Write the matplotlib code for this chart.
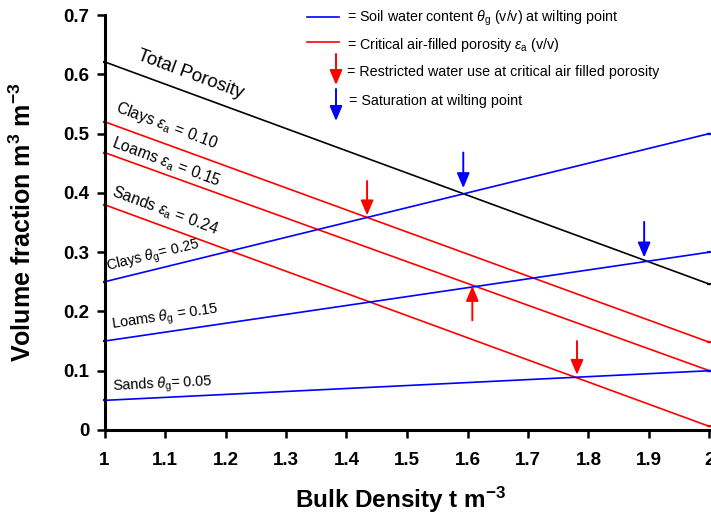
import matplotlib
matplotlib.use("Agg")
import matplotlib.pyplot as plt
from matplotlib.patches import FancyArrowPatch
from matplotlib.lines import Line2D

plt.rcParams['font.family'] = ['Liberation Sans', 'DejaVu Sans']
plt.rcParams['mathtext.fontset'] = 'custom'
plt.rcParams['mathtext.rm'] = 'Liberation Sans'
plt.rcParams['mathtext.it'] = 'Liberation Sans:italic'
plt.rcParams['mathtext.bf'] = 'Liberation Sans:bold'

# ---- data ----
bulk_density = [1.0, 2.0]
total_porosity = [0.621, 0.246]
clays_crit_air = [0.520, 0.148]
loams_crit_air = [0.468, 0.100]
sands_crit_air = [0.380, 0.006]
clays_water = [0.25, 0.50]
loams_water = [0.15, 0.30]
sands_water = [0.05, 0.10]

# arrows: (x, y_tail, y_tip)
red_arrows = [(1.434, 0.420, 0.362), (1.608, 0.185, 0.243), (1.781, 0.150, 0.093)]
blue_arrows = [(1.593, 0.468, 0.408), (1.892, 0.351, 0.291)]

xticks = [1, 1.1, 1.2, 1.3, 1.4, 1.5, 1.6, 1.7, 1.8, 1.9, 2]
xticklabels = ['1', '1.1', '1.2', '1.3', '1.4', '1.5', '1.6', '1.7', '1.8', '1.9', '2']
yticks = [0, 0.1, 0.2, 0.3, 0.4, 0.5, 0.6, 0.7]
yticklabels = ['0', '0.1', '0.2', '0.3', '0.4', '0.5', '0.6', '0.7']

W, H = 711, 512
fig = plt.figure(figsize=(W / 100, H / 100), dpi=100)
ax = fig.add_axes([104.5 / W, 1 - 430 / H, 605 / W, 415 / H])

lw = 1.2
line_kw = dict(lw=lw, clip_on=False, marker='_', markersize=3.5, markeredgewidth=1.6)
ax.plot(bulk_density, total_porosity, color='black', **line_kw)
for ys in (clays_crit_air, loams_crit_air, sands_crit_air):
    ax.plot(bulk_density, ys, color='#ff0000', **line_kw)
for ys in (clays_water, loams_water, sands_water):
    ax.plot(bulk_density, ys, color='#0000ff', **line_kw)

arrow_kw = dict(arrowstyle='-|>,head_length=0.9,head_width=0.38', lw=1.4,
                shrinkA=0, shrinkB=0, mutation_scale=10)
for x, y0, y1 in red_arrows:
    ax.annotate('', xy=(x, y1), xytext=(x, y0),
                arrowprops=dict(color='#ff0000', **arrow_kw))
for x, y0, y1 in blue_arrows:
    ax.annotate('', xy=(x, y1), xytext=(x, y0),
                arrowprops=dict(color='#0000ff', **arrow_kw))

# line labels
lab = dict(ha='center', va='center', rotation_mode='anchor', color='black')
ax.text(1.142, 0.600, 'Total Porosity', fontsize=13.5, rotation=-20.3, **lab)
ax.text(1.102, 0.513, r'Clays $\varepsilon_\mathrm{a}$ = 0.10', fontsize=11.3, rotation=-20.3, **lab)
ax.text(1.102, 0.452, r'Loams $\varepsilon_\mathrm{a}$ = 0.15', fontsize=11.3, rotation=-20.3, **lab)
ax.text(1.101, 0.369, r'Sands $\varepsilon_\mathrm{a}$ = 0.24', fontsize=11.3, rotation=-20.3, **lab)
ax.text(1.081, 0.293, r'Clays $\theta_\mathrm{g}$= 0.25', fontsize=10.4, rotation=13.8, **lab)
ax.text(1.101, 0.189, r'Loams $\theta_\mathrm{g}$ = 0.15', fontsize=10.5, rotation=8.4, **lab)
ax.text(1.096, 0.076, r'Sands $\theta_\mathrm{g}$= 0.05', fontsize=10.4, rotation=2.8, **lab)

# legend (figure pixel positions)
def fx(px):
    return px / W

def fy(py):
    return 1 - py / H

fig.add_artist(Line2D([fx(307), fx(339)], [fy(17), fy(17)], color='#0000ff', lw=1.2))
fig.add_artist(Line2D([fx(307), fx(339)], [fy(42), fy(42)], color='#ff0000', lw=1.2))
fig.add_artist(FancyArrowPatch((fx(336), fy(54)), (fx(336), fy(85)),
                               transform=fig.transFigure, color='#ff0000', **arrow_kw))
fig.add_artist(FancyArrowPatch((fx(336), fy(89)), (fx(336), fy(121)),
                               transform=fig.transFigure, color='#0000ff', **arrow_kw))
lt = dict(fontsize=10.3, va='center', ha='left')
fig.text(fx(347), fy(18), r'= Soil water content $\theta_\mathrm{g}$ (v/v) at wilting point', **lt)
fig.text(fx(347), fy(45), r'= Critical air-filled porosity $\varepsilon_\mathrm{a}$ (v/v)', **lt)
fig.text(fx(347), fy(72), '= Restricted water use at critical air filled porosity', **lt)
fig.text(fx(349), fy(101), '= Saturation at wilting point', **lt)

ax.set_xlim(1, 2)
ax.set_ylim(0, 0.7)
ax.set_xticks(xticks)
ax.set_xticklabels(xticklabels)
ax.set_yticks(yticks)
ax.set_yticklabels(yticklabels)
for t in ax.get_xticklabels() + ax.get_yticklabels():
    t.set_fontweight('bold')
    t.set_fontsize(13.5)
ax.tick_params(direction='out', length=6, width=1.8, pad=5)
ax.tick_params(axis='x', pad=10)
for s in ('top', 'right'):
    ax.spines[s].set_visible(False)
for s in ('left', 'bottom'):
    ax.spines[s].set_linewidth(2.2)

ax.set_xlabel(r'Bulk Density t m$^{\mathbf{-3}}$', fontsize=17.5, fontweight='bold')
ax.set_ylabel(r'Volume fraction m$^{\mathbf{3}}$ m$^{\mathbf{-3}}$', fontsize=18, fontweight='bold')
ax.xaxis.set_label_coords((400 - 104.5) / 605, (430 - 485) / 415)
ax.yaxis.set_label_coords((36 - 104.5) / 605, 0.5)

fig.savefig('out.png', dpi=100)
